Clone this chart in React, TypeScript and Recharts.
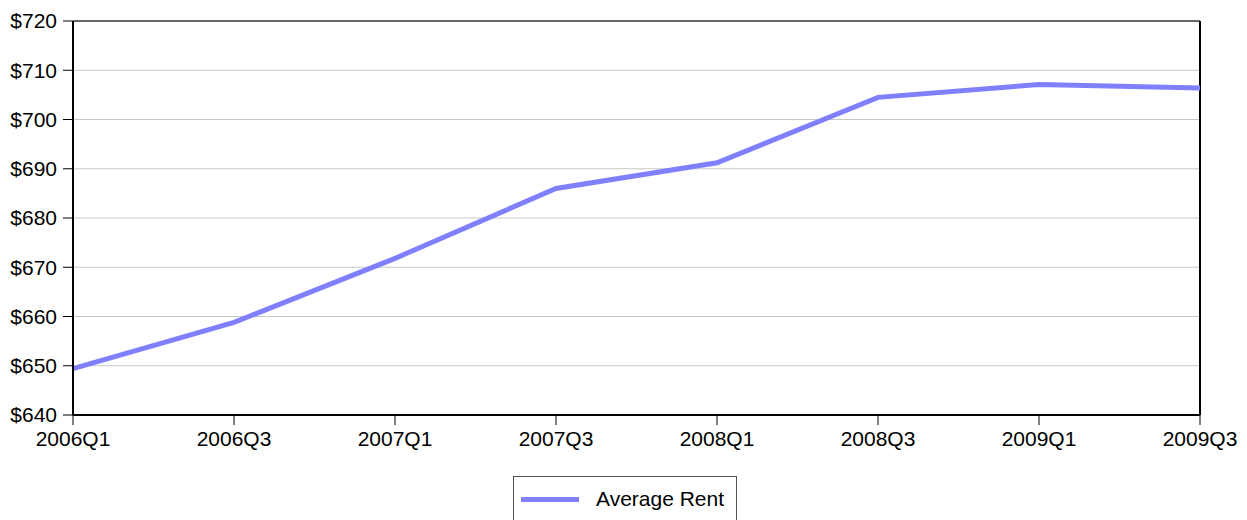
import { LineChart, Line, XAxis, YAxis, CartesianGrid, ReferenceLine } from 'recharts';

const labelQuarters = ['2006Q1', '2006Q3', '2007Q1', '2007Q3', '2008Q1', '2008Q3', '2009Q1', '2009Q3'];
const rentValues = [649.4, 658.8, 671.8, 686.0, 691.2, 704.5, 707.1, 706.4];
const yTicks = [640, 650, 660, 670, 680, 690, 700, 710, 720];

const data = labelQuarters.map((q, i) => ({ quarter: q, rent: rentValues[i] }));

const font = 'Liberation Sans, Arial, sans-serif';
const fontSize = 21;

function LegendBox() {
  return (
    <div
      style={{
        position: 'absolute',
        left: 513,
        top: 476,
        width: 224,
        height: 50,
        border: '1px solid #555',
        borderBottom: 'none',
        background: '#fff',
        fontFamily: font,
        fontSize,
        color: '#000',
        display: 'flex',
        alignItems: 'center',
        boxSizing: 'border-box',
        paddingBottom: 5,
      }}
    >
      <span style={{ display: 'inline-block', width: 58, height: 5, background: '#8080ff', marginLeft: 7, marginRight: 17 }} />
      <span>Average Rent</span>
    </div>
  );
}

export default function App() {
  return (
    <div style={{ position: 'fixed', left: 0, top: 0, width: 1247, height: 520, background: '#fff' }}>
      <LineChart width={1247} height={520} data={data} margin={{ top: 21, right: 47, left: 0, bottom: 60 }}>
        <CartesianGrid vertical={false} stroke="#c8c8c8" strokeWidth={1} />
        <XAxis
          dataKey="quarter"
          interval={0}
          padding={{ left: 0, right: 0 }}
          height={45}
          tickSize={10}
          tickMargin={6}
          axisLine={{ stroke: '#000', strokeWidth: 2 }}
          tickLine={{ stroke: '#000', strokeWidth: 1 }}
          tick={{ fill: '#000', fontSize, fontFamily: font }}
        />
        <YAxis
          domain={[640, 720]}
          ticks={yTicks}
          width={73}
          tickSize={10}
          tickMargin={6}
          tickFormatter={(v) => `$${v}`}
          axisLine={{ stroke: '#000', strokeWidth: 2 }}
          tickLine={{ stroke: '#000', strokeWidth: 1 }}
          tick={{ fill: '#000', fontSize, fontFamily: font }}
        />
        <ReferenceLine y={720} stroke="#666" strokeWidth={2} />
        <ReferenceLine x="2009Q3" stroke="#000" strokeWidth={2} />
        <Line
          type="linear"
          dataKey="rent"
          name="Average Rent"
          stroke="#8080ff"
          strokeWidth={5}
          dot={false}
          isAnimationActive={false}
        />
      </LineChart>
      <LegendBox />
    </div>
  );
}
